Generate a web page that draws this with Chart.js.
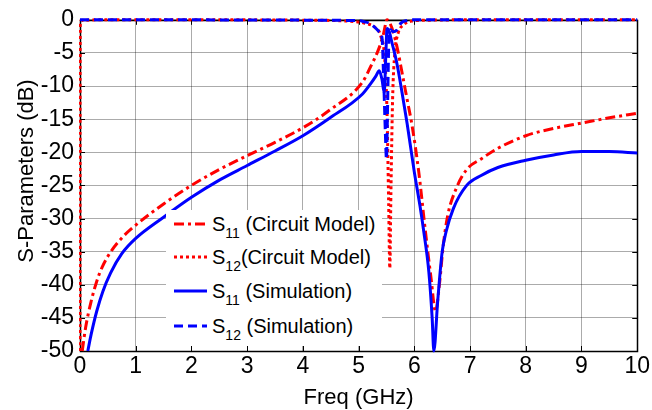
<!DOCTYPE html>
<html>
<head>
<meta charset="utf-8">
<script src="https://cdn.jsdelivr.net/npm/chart.js@4.4.1/dist/chart.umd.min.js"></script>
<style>
  html, body { margin: 0; padding: 0; background: #fff; }
  #wrap { position: relative; width: 652px; height: 410px; }
  #legend {
    position: absolute; left: 166px; top: 210px; width: 216px; height: 136px;
    background: #fff; font-family: "Liberation Sans", Arial, sans-serif;
    font-size: 20px; color: #000;
  }
  .row { position: absolute; left: 8px; height: 34px; display: flex; align-items: center; white-space: nowrap; }
  .row svg { width: 33px; height: 10px; margin-right: 5px; flex: none; }
  sub { font-size: 14px; vertical-align: -7px; line-height: 0; }
</style>
</head>
<body>
<div id="wrap">
  <canvas id="chart" width="652" height="410"></canvas>
  <div id="legend"></div>
</div>
<script>
// S11 circuit model (red dash-dot)
const s11CircuitFreq = [0.04, 0.1, 0.2, 0.3, 0.4, 0.57, 0.8, 1, 1.5, 2, 2.5, 3, 3.5, 4, 4.47, 5.07, 5.22, 5.37, 5.45, 5.51, 5.56, 5.62, 5.7, 5.78, 5.87, 5.96, 6.08, 6.2, 6.3, 6.38, 6.45, 6.52, 6.6, 6.75, 6.94, 7.2, 7.5, 8, 8.5, 9, 9.5, 10];
const s11CircuitDb = [-50, -46.5, -42.5, -39.5, -37.3, -34.8, -32.5, -31, -27.8, -25, -22.6, -20.5, -18.5, -16.3, -13.7, -9.4, -7, -4.2, -2, 0, -0.5, -1.8, -4.5, -8, -12, -16, -23, -32, -39, -44, -40, -34, -29.5, -25.5, -22.6, -21, -19.4, -17.5, -16.4, -15.6, -14.8, -14.1];

// S12 circuit model (red dotted)
const s12CircuitFreq = [0, 0.002, 0.006, 0.02, 0.5, 2, 4, 4.8, 5.1, 5.3, 5.4, 5.47, 5.51, 5.54, 5.56, 5.58, 5.61, 5.65, 5.71, 5.8, 5.95, 6.3, 7, 10];
const s12CircuitDb = [-50, -8, -0.6, -0.1, 0, 0, -0.05, -0.2, -0.5, -1.2, -2.5, -6, -14, -28, -37.5, -26, -12, -5, -2, -0.8, -0.2, -0.05, 0, 0];

// S11 simulation (blue solid)
const s11SimFreq = [0.14, 0.2, 0.3, 0.41, 0.55, 0.75, 1, 1.5, 2, 2.5, 3, 3.5, 4, 4.47, 5.07, 5.22, 5.31, 5.37, 5.42, 5.46, 5.49, 5.51, 5.55, 5.6, 5.69, 5.78, 5.87, 6, 6.1, 6.17, 6.26, 6.32, 6.35, 6.42, 6.5, 6.57, 6.7, 6.94, 7.2, 7.5, 8, 8.5, 9, 9.5, 10];
const s11SimDb = [-50, -47.5, -44, -41, -38.2, -35.3, -33, -29.8, -26.8, -24.2, -22, -19.8, -17.5, -14.9, -11.2, -9.6, -8.5, -7.7, -9, -11, -5, -1.3, -1.8, -3.5, -6.7, -11, -15.6, -23, -28, -32, -38, -45, -50, -42.4, -35, -32, -28.5, -25, -23.5, -22.3, -21.2, -20.4, -19.9, -19.9, -20.1];

// S12 simulation (blue dashed)
const s12SimFreq = [0, 5, 5.1, 5.19, 5.3, 5.37, 5.42, 5.45, 5.48, 5.5, 5.52, 5.54, 5.57, 5.62, 5.68, 5.76, 5.87, 5.95, 10];
const s12SimDb = [0, -0.1, -0.3, -0.5, -1.2, -1.8, -2.7, -9, -17, -21, -13, -4, -1.5, -1.8, -1.6, -0.5, -0.1, 0, 0];

const xTicks = [0, 1, 2, 3, 4, 5, 6, 7, 8, 9, 10];
const yTicks = [0, -5, -10, -15, -20, -25, -30, -35, -40, -45, -50];

const FONT = '"Liberation Sans", Arial, sans-serif';
const pts = (fs, ds) => fs.map((f, i) => ({ x: f, y: ds[i] }));

const series = [
  { label: "S11 (Simulation)", sub: "11", rest: " (Simulation)", f: s11SimFreq, d: s11SimDb, color: "#0000ff", dash: [] },
  { label: "S12 (Simulation)", sub: "12", rest: " (Simulation)", f: s12SimFreq, d: s12SimDb, color: "#0000ff", dash: [9, 5] },
  { label: "S11 (Circuit Model)", sub: "11", rest: " (Circuit Model)", f: s11CircuitFreq, d: s11CircuitDb, color: "#ff0000", dash: [10, 4, 3, 4] },
  { label: "S12(Circuit Model)", sub: "12", rest: "(Circuit Model)", f: s12CircuitFreq, d: s12CircuitDb, color: "#ff0000", dash: [3, 3] }
];

const framePlugin = {
  id: "frame",
  beforeDatasetsDraw(chart) {
    const { ctx, chartArea: a, scales: { x, y } } = chart;
    ctx.save();
    ctx.strokeStyle = "#000";
    ctx.lineWidth = 1;
    ctx.beginPath();
    xTicks.forEach(t => {
      const px = Math.round(x.getPixelForValue(t)) + 0.5;
      ctx.moveTo(px, a.bottom); ctx.lineTo(px, a.bottom - 5);
      ctx.moveTo(px, a.top); ctx.lineTo(px, a.top + 5);
    });
    yTicks.forEach(t => {
      const py = Math.round(y.getPixelForValue(t)) + 0.5;
      ctx.moveTo(a.left, py); ctx.lineTo(a.left + 5, py);
      ctx.moveTo(a.right, py); ctx.lineTo(a.right - 5, py);
    });
    ctx.stroke();
    ctx.lineWidth = 1.5;
    ctx.strokeRect(Math.round(a.left) + 0.5, Math.round(a.top) + 0.5, Math.round(a.right - a.left), Math.round(a.bottom - a.top));
    ctx.restore();
  },
  afterDraw(chart) {
    const { ctx, chartArea: a } = chart;
    ctx.save();
    ctx.fillStyle = "#000";
    ctx.font = "22px " + FONT;
    ctx.textAlign = "center";
    ctx.textBaseline = "alphabetic";
    ctx.fillText("Freq (GHz)", (a.left + a.right) / 2, 404);
    ctx.translate(33, 171);
    ctx.rotate(-Math.PI / 2);
    ctx.fillText("S-Parameters (dB)", 0, 0);
    ctx.restore();
  }
};

new Chart(document.getElementById("chart"), {
  type: "line",
  data: {
    datasets: series.map(s => ({
      label: s.label,
      data: pts(s.f, s.d),
      borderColor: s.color,
      borderDash: s.dash,
      borderWidth: 3,
      pointRadius: 0,
      fill: false,
      cubicInterpolationMode: "monotone",
      clip: { left: 1, top: 3, right: 2, bottom: 3 }
    }))
  },
  options: {
    responsive: false,
    animation: false,
    devicePixelRatio: 1,
    layout: { padding: { left: 0, right: 13, top: 15, bottom: 0 } },
    plugins: { legend: { display: false }, tooltip: { enabled: false } },
    scales: {
      x: {
        type: "linear", min: 0, max: 10,
        afterFit: s => { s.height = 59; },
        afterBuildTicks: s => { s.ticks = xTicks.map(v => ({ value: v })); },
        ticks: { color: "#000", font: { family: FONT, size: 23 }, padding: 2, maxRotation: 0 },
        grid: { color: "rgba(0,0,0,0.33)", drawTicks: false },
        border: { display: false }
      },
      y: {
        type: "linear", min: -50, max: 0,
        afterFit: s => { s.width = 80; },
        afterBuildTicks: s => { s.ticks = yTicks.map(v => ({ value: v })); },
        ticks: { color: "#000", font: { family: FONT, size: 23 }, padding: 6 },
        grid: { color: "rgba(0,0,0,0.33)", drawTicks: false },
        border: { display: false }
      }
    }
  },
  plugins: [framePlugin]
});

// legend with subscripts, as in the figure
const legendOrder = [2, 3, 0, 1];
const rowCenters = [14, 47, 81, 116];
const legend = document.getElementById("legend");
legendOrder.forEach((idx, i) => {
  const s = series[idx];
  const row = document.createElement("div");
  row.className = "row";
  row.style.top = (rowCenters[i] - 17) + "px";
  row.innerHTML =
    '<svg viewBox="0 0 33 10"><line x1="0" y1="5" x2="33" y2="5" stroke="' + s.color +
    '" stroke-width="3" stroke-dasharray="' + (s.dash.length ? s.dash.join(" ") : "none") + '"/></svg>' +
    '<span>S<sub>' + s.sub + '</sub>' + s.rest + '</span>';
  legend.appendChild(row);
});
</script>
</body>
</html>
